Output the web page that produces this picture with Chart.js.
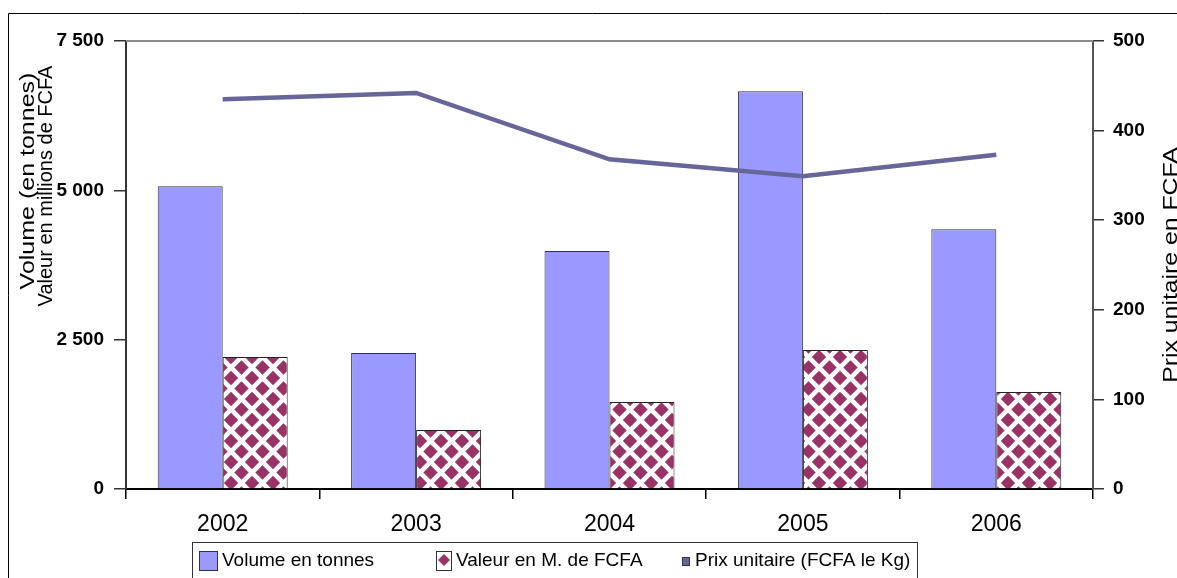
<!DOCTYPE html>
<html>
<head>
<meta charset="utf-8">
<script src="https://cdn.jsdelivr.net/npm/chart.js@4"></script>
<style>
  html, body { margin: 0; padding: 0; background: #fff; }
  #wrap { width: 1177px; height: 578px; }
</style>
</head>
<body>
<div id="wrap"><canvas id="prodChart" width="1177" height="578"></canvas></div>
<script>
// data
const years = ['2002', '2003', '2004', '2005', '2006'];
const volumeTonnes = [5070, 2275, 3985, 6660, 4350];
const valeurMFcfa = [2210, 988, 1457, 2327, 1624];
const prixUnitaire = [435, 442, 368, 349, 373];

const leftTicks = [0, 2500, 5000, 7500];
const rightTicks = [0, 100, 200, 300, 400, 500];

const leftTitle = ['Volume (en tonnes)', 'Valeur en millions de FCFA'];
const rightTitle = 'Prix unitaire en FCFA';
const seriesNames = ['Volume en tonnes', 'Valeur en M. de FCFA', 'Prix unitaire (FCFA le Kg)'];

const FONT = 'Arial, "Liberation Sans", sans-serif';

// maroon diamonds on white
const makeDiamonds = () => {
  const size = 21;
  const c = document.createElement('canvas');
  c.width = size; c.height = size;
  const g = c.getContext('2d');
  g.fillStyle = '#fff';
  g.fillRect(0, 0, size, size);
  g.fillStyle = '#993366';
  const diamond = (x, y, r) => {
    g.beginPath();
    g.moveTo(x, y - r); g.lineTo(x + r, y); g.lineTo(x, y + r); g.lineTo(x - r, y);
    g.closePath();
    g.fill();
  };
  [[size / 2, size / 2], [0, 0], [size, 0], [0, size], [size, size]].forEach(p => diamond(p[0], p[1], 7.2));
  return c;
};
const diamondTile = makeDiamonds();
const ctx = document.getElementById('prodChart').getContext('2d');
const diamondFill = ctx.createPattern(diamondTile, 'repeat');

const spaced = v => String(v).replace(/\B(?=(\d{3})+(?!\d))/g, ' ');

// rotated text stretched to look like the original export
const drawStretched = (c, text, x, y, stretch) => {
  c.save();
  c.translate(x, y);
  c.rotate(-Math.PI / 2);
  c.scale(stretch, 1);
  c.textAlign = 'center';
  c.textBaseline = 'alphabetic';
  c.fillText(text, 0, 0);
  c.restore();
};

const decorations = {
  id: 'decorations',
  afterDraw(chart) {
    const c = chart.ctx;
    const area = chart.chartArea;
    const byName = name => chart.data.datasets.find(d => d.label === name);
    c.save();

    // outer frame
    c.strokeStyle = '#000';
    c.lineWidth = 1;
    c.beginPath();
    c.moveTo(8.5, 578); c.lineTo(8.5, 13.5); c.lineTo(1177, 13.5);
    c.stroke();

    // grey top edge of plot area
    c.strokeStyle = '#8c8c8c';
    c.lineWidth = 2;
    c.beginPath();
    c.moveTo(area.left, area.top); c.lineTo(area.right, area.top);
    c.stroke();

    // axis titles
    c.fillStyle = '#000';
    c.font = '20px ' + FONT;
    drawStretched(c, leftTitle[0], 34, 181, 1.25);
    drawStretched(c, leftTitle[1], 52, 186, 1.0);
    c.font = '21px ' + FONT;
    drawStretched(c, rightTitle, 1177, 265, 1.18);

    // legend box
    c.strokeStyle = '#333';
    c.lineWidth = 1;
    c.strokeRect(192.5, 542.5, 725, 40);

    const midY = 561;
    // volume swatch
    c.fillStyle = byName(seriesNames[0]).backgroundColor;
    c.fillRect(199, 551, 18, 19);
    c.strokeStyle = '#333';
    c.strokeRect(199.5, 551.5, 18, 19);
    // valeur swatch
    c.fillStyle = '#fff';
    c.fillRect(436, 551, 15, 19);
    c.strokeRect(436.5, 551.5, 15, 19);
    c.fillStyle = '#993366';
    c.beginPath();
    c.moveTo(444, 554); c.lineTo(450, 560); c.lineTo(444, 566); c.lineTo(438, 560);
    c.closePath();
    c.fill();
    // prix swatch
    c.fillStyle = byName(seriesNames[2]).borderColor;
    c.fillRect(682, 557, 7, 8);
    c.strokeRect(682.5, 557.5, 7, 8);

    c.fillStyle = '#000';
    c.font = '19px ' + FONT;
    c.textAlign = 'left';
    c.textBaseline = 'middle';
    c.fillText(seriesNames[0], 222, midY);
    c.fillText(seriesNames[1], 456, midY);
    c.fillText(seriesNames[2], 695, midY);

    c.restore();
  }
};

new Chart(ctx, {
  data: {
    labels: years,
    datasets: [
      {
        type: 'line',
        label: seriesNames[2],
        data: prixUnitaire,
        yAxisID: 'y1',
        borderColor: '#666699',
        borderWidth: 4.5,
        pointRadius: 0,
        tension: 0,
        order: 0,
      },
      {
        type: 'bar',
        label: seriesNames[0],
        data: volumeTonnes,
        yAxisID: 'y',
        backgroundColor: '#9999FF',
        borderColor: '#333',
        borderWidth: 1,
        categoryPercentage: 0.672,
        barPercentage: 1.0,
        order: 1,
      },
      {
        type: 'bar',
        label: seriesNames[1],
        data: valeurMFcfa,
        yAxisID: 'y',
        backgroundColor: diamondFill,
        borderColor: '#222',
        borderWidth: 1,
        categoryPercentage: 0.672,
        barPercentage: 1.0,
        order: 1,
      },
    ],
  },
  options: {
    responsive: false,
    animation: false,
    layout: { padding: { top: 41, left: 0, right: 0, bottom: 0 } },
    plugins: {
      legend: { display: false },
      tooltip: { enabled: false },
    },
    scales: {
      x: {
        offset: true,
        grid: { display: true, offset: true, drawOnChartArea: false, drawTicks: true, tickLength: 10, color: '#000', lineWidth: 1.5 },
        border: { display: true, color: '#000', width: 2 },
        ticks: { color: '#000', font: { family: FONT, size: 23 }, padding: 12, maxRotation: 0 },
        afterFit: s => { s.height = 89; },
      },
      y: {
        position: 'left',
        min: 0,
        max: 7500,
        afterBuildTicks: s => { s.ticks = leftTicks.map(v => ({ value: v })); },
        grid: { drawOnChartArea: false, drawTicks: true, tickLength: 12, color: '#333', lineWidth: 1.5 },
        border: { display: true, color: '#333', width: 2 },
        ticks: { color: '#000', font: { family: FONT, size: 19, weight: 'bold' }, padding: 10, callback: v => spaced(v) },
        afterFit: s => { s.width = 126; },
      },
      y1: {
        position: 'right',
        min: 0,
        max: 500,
        afterBuildTicks: s => { s.ticks = rightTicks.map(v => ({ value: v })); },
        grid: { drawOnChartArea: false, drawTicks: true, tickLength: 11, color: '#333', lineWidth: 1.5 },
        border: { display: true, color: '#555', width: 2 },
        ticks: { color: '#000', font: { family: FONT, size: 19, weight: 'bold' }, padding: 9 },
        afterFit: s => { s.width = 84; },
      },
    },
  },
  plugins: [decorations],
});
</script>
</body>
</html>
